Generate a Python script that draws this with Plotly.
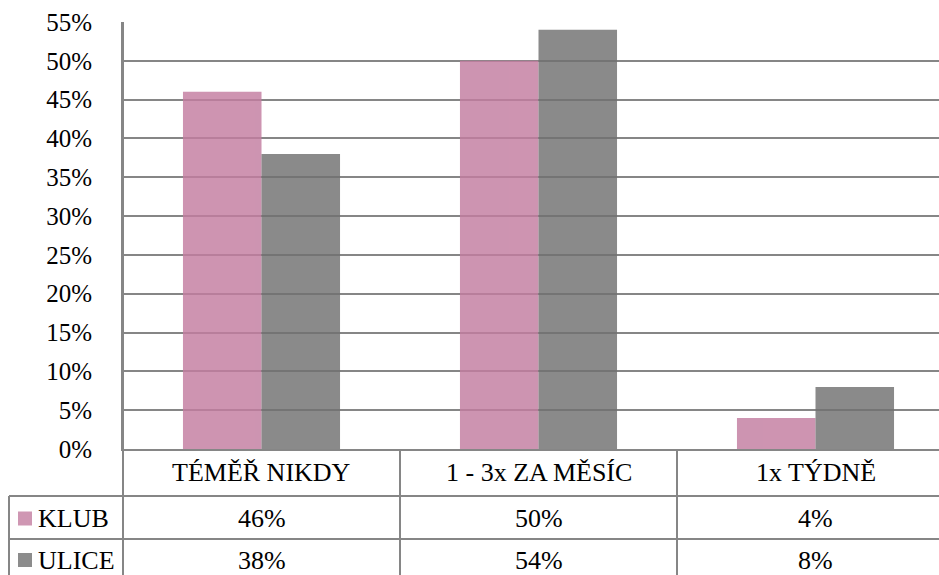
import plotly.graph_objects as go

categories = ["TÉMĚŘ NIKDY", "1 - 3x ZA MĚSÍC", "1x TÝDNĚ"]
series_names = ["KLUB", "ULICE"]
klub = [0.46, 0.50, 0.04]
ulice = [0.38, 0.54, 0.08]
series_values = [klub, ulice]
series_colors = ["rgb(195,125,160)", "rgb(112,112,112)"]
swatch_colors = ["#CF97B3", "#8C8C8C"]
y_ticks = [i * 0.05 for i in range(12)]

W, H = 939, 575
ML, MR, MT, MB = 123, 0, 22, 126
PW, PH = W - ML - MR, H - MT - MB
FONT = "Liberation Serif"
FS = 26
GRID = "#868686"

x_lo = -0.5
cat_w = 277.0
x_hi = x_lo + PW / cat_w

def px2paper_x(px):
    return (px - ML) / PW

def px2paper_y(py):
    return (H - MB - py) / PH

def data2paper_x(v):
    return (v - x_lo) / (x_hi - x_lo)

fig = go.Figure()
for name, vals, col in zip(series_names, series_values, series_colors):
    fig.add_trace(go.Bar(x=list(range(len(categories))), y=vals, name=name,
                         marker=dict(color=col, line=dict(width=0)), opacity=0.82))

shapes = []
row1 = 496
row2 = 539
bottom = 449
line = dict(color=GRID, width=2)
for yy in (row1, row2):
    shapes.append(dict(type="line", xref="paper", yref="paper",
                       x0=px2paper_x(9), x1=px2paper_x(W + 5),
                       y0=px2paper_y(yy), y1=px2paper_y(yy), line=line))
shapes.append(dict(type="line", xref="paper", yref="paper",
                   x0=px2paper_x(9), x1=px2paper_x(9),
                   y0=px2paper_y(row1), y1=px2paper_y(H + 5), line=line))
shapes.append(dict(type="line", xref="paper", yref="paper",
                   x0=0, x1=0, y0=1, y1=px2paper_y(H + 5), line=line))
for k in range(1, len(categories)):
    xp = data2paper_x(k - 0.5)
    shapes.append(dict(type="line", xref="paper", yref="paper",
                       x0=xp, x1=xp, y0=0, y1=px2paper_y(H + 5), line=line))

annotations = []
row_centers = [(bottom + row1) / 2, (row1 + row2) / 2 + 1, (row2 + H) / 2 + 3]
for i, c in enumerate(categories):
    xp = data2paper_x(i)
    annotations.append(dict(x=xp, y=px2paper_y(row_centers[0]), xref="paper", yref="paper",
                            text=c, showarrow=False, xanchor="center", yanchor="middle",
                            font=dict(family=FONT, size=FS, color="#000000")))
    for r, vals in enumerate(series_values):
        annotations.append(dict(x=xp, y=px2paper_y(row_centers[r + 1]), xref="paper", yref="paper",
                                text=f"{round(vals[i]*100)}%", showarrow=False,
                                xanchor="center", yanchor="middle",
                                font=dict(family=FONT, size=FS, color="#000000")))
for r, (name, sc) in enumerate(zip(series_names, swatch_colors)):
    yc = row_centers[r + 1]
    shapes.append(dict(type="rect", xref="paper", yref="paper",
                       x0=px2paper_x(18), x1=px2paper_x(32),
                       y0=px2paper_y(yc + 7), y1=px2paper_y(yc - 7),
                       fillcolor=sc, line=dict(width=0)))
    annotations.append(dict(x=px2paper_x(36), y=px2paper_y(yc), xref="paper", yref="paper",
                            text=name, showarrow=False, xanchor="left", yanchor="middle",
                            font=dict(family=FONT, size=FS, color="#000000")))

fig.update_layout(
    width=W, height=H,
    margin=dict(l=ML, r=MR, t=MT, b=MB, pad=0),
    paper_bgcolor="white", plot_bgcolor="white",
    barmode="group", bargap=0.433, bargroupgap=0,
    showlegend=False,
    xaxis=dict(range=[x_lo, x_hi], showticklabels=False, showgrid=False,
               zeroline=False, showline=True, linecolor=GRID, linewidth=2, ticks=""),
    yaxis=dict(range=[0, 0.55], tickvals=y_ticks, tickformat=".0%",
               showgrid=True, gridcolor=GRID, gridwidth=2, zeroline=False,
               showline=True, linecolor=GRID, linewidth=2, ticks="",
               ticklabelstandoff=24,
               tickfont=dict(family=FONT, size=25, color="#000000")),
    shapes=shapes, annotations=annotations,
)
fig.write_html("out.html")
